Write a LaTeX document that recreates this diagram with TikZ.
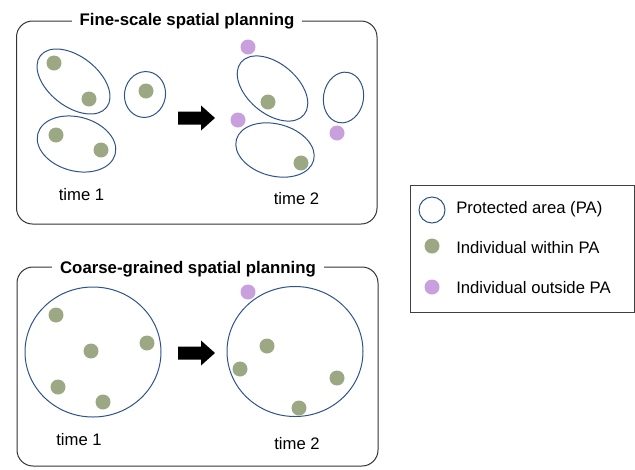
\documentclass[tikz,border=0pt]{standalone}
\usepackage{fontspec}
\setmainfont{Liberation Sans}
\usepackage{tikz}
\usetikzlibrary{shapes.geometric}
\usetikzlibrary{positioning}
\definecolor{PAblue}{RGB}{47,82,143}
\definecolor{InGreen}{RGB}{155,168,131}
\definecolor{OutPurple}{RGB}{200,160,222}

\begin{document}
\begin{tikzpicture}[x=0.75pt,y=-0.75pt]
		\tikzstyle{PA}=[ellipse,draw=PAblue,line width=0.75pt,inner sep=0pt]
		\tikzstyle{Inside}=[circle,fill=InGreen,inner sep=0pt,minimum size=11.25pt]
		\tikzstyle{Outside}=[circle,fill=OutPurple,inner sep=0pt,minimum size=11.25pt]
		\tikzstyle{Panel}=[draw=black!80,line width=0.75pt,rounded corners=12pt]
		\tikzstyle{Title}=[fill=white,inner xsep=6pt,inner ysep=1pt,anchor=base,font=\bfseries\fontsize{12.6}{15}\selectfont]
		\tikzstyle{Label}=[inner sep=0pt,anchor=base,font=\fontsize{12.5}{15}\selectfont]

		\useasboundingbox (0,0) rectangle (635,469);

		\def\px {0.75pt}

		\draw [Panel] (16.5,21) rectangle (377,224);
		\draw [Panel] (17,267) rectangle (378,466);
		\node [Title] (fine) at (187,25) {Fine-scale spatial planning};
		\node [Title] (coarse) at (188,273) {Coarse-grained spatial planning};

		\foreach \name/\x/\y/\w/\h/\r in {E1/73.5/81.5/84/50/-38, E2/145/94.5/41/46/-10, E3/76.5/144/80/54/-15,
			E4/272.5/88.5/82/50/-40, E5/343.5/97.5/40/51/-10, E6/275/150/80/52/-15,
			C1/93/352/136/130/0, C2/295/351.5/136/130/0}
		{
			\node [PA,minimum width=\w*\px,minimum height=\h*\px,rotate=\r] (\name) at (\x,\y) {};
		}

		\foreach \x/\y [count=\k] in {54/63, 89/99, 146/91, 56/135, 101/150, 268/102, 301/163,
			56/315, 91/351, 147/343, 58/387, 103/402, 267/346, 240/369, 337/378, 299/408}
		{
			\node [Inside] (in\k) at (\x,\y) {};
		}
		\foreach \x/\y [count=\k] in {248/47, 238/120, 337/133, 248/292}
		{
			\node [Outside] (out\k) at (\x,\y) {};
		}

		\foreach \yc in {118,353}
		{
			\fill (178,\yc-6.5) -- (201,\yc-6.5) -- (201,\yc-12.5) -- (215,\yc) -- (201,\yc+12.5) -- (201,\yc+6.5) -- (178,\yc+6.5) -- cycle;
		}

		\node [Label] (t1a) at (81.5,200) {time 1};
		\node [Label] (t2a) at (296.5,204) {time 2};
		\node [Label] (t1b) at (79,445) {time 1};
		\node [Label] (t2b) at (297,449) {time 2};

		\draw [draw=black!75,line width=0.75pt] (410,185) rectangle (634.5,312);
		\node [PA,minimum width=26*\px,minimum height=26*\px] (keyPA) at (432,210) {};
		\node [Inside] (keyIn) at (432,246) {};
		\node [Outside] (keyOut) at (432,287) {};
		\node [Label,anchor=base west] (txtPA) at (456,213) {Protected area (PA)};
		\node [Label,anchor=base west] (txtIn) at (456,253) {Individual within PA};
		\node [Label,anchor=base west] (txtOut) at (456,293) {Individual outside PA};

\end{tikzpicture}
\end{document}
